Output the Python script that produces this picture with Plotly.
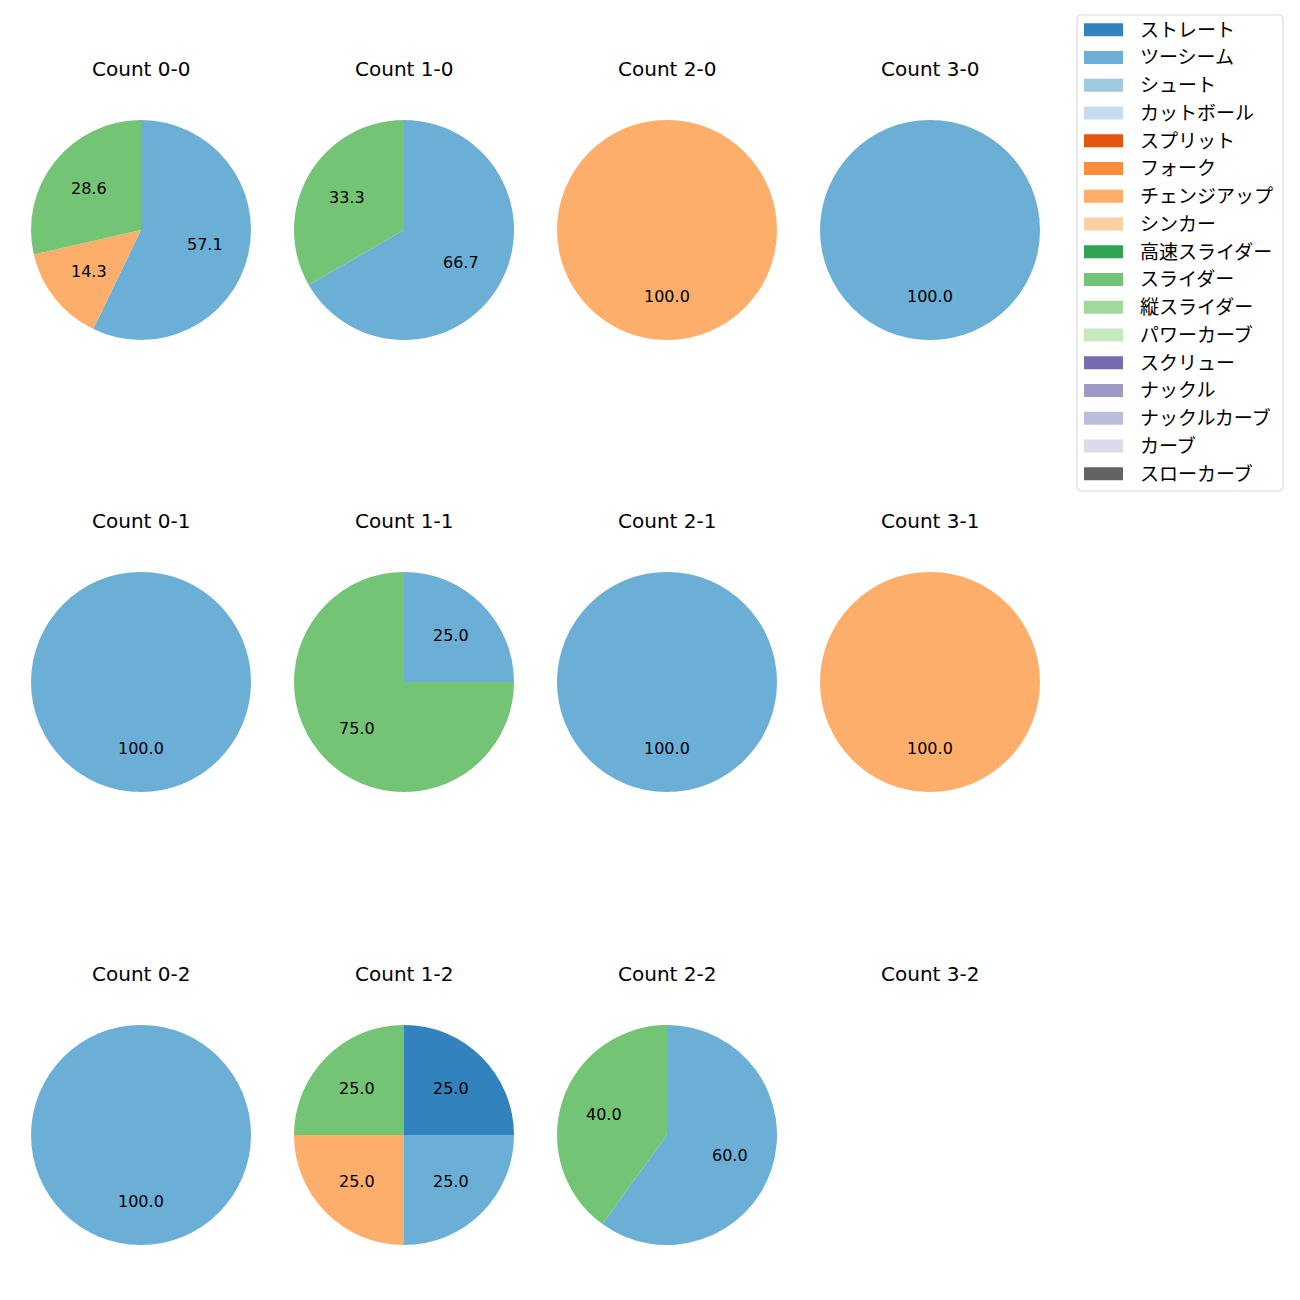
import math
import plotly.graph_objects as go

# ---- data ----
pitch_types = ["ストレート", "ツーシーム", "シュート", "カットボール", "スプリット", "フォーク",
               "チェンジアップ", "シンカー", "高速スライダー", "スライダー", "縦スライダー",
               "パワーカーブ", "スクリュー", "ナックル", "ナックルカーブ", "カーブ", "スローカーブ"]
pitch_colors = ["#3182bd", "#6baed6", "#9ecae1", "#c6dbef", "#e6550d", "#fd8d3c",
                "#fdae6b", "#fdd0a2", "#31a354", "#74c476", "#a1d99b", "#c7e9c0",
                "#756bb1", "#9e9ac8", "#bcbddc", "#dadaeb", "#636363"]

count_titles = ["Count 0-0", "Count 1-0", "Count 2-0", "Count 3-0",
                "Count 0-1", "Count 1-1", "Count 2-1", "Count 3-1",
                "Count 0-2", "Count 1-2", "Count 2-2", "Count 3-2"]

slice_pitches = [
    ["ツーシーム", "チェンジアップ", "スライダー"],
    ["ツーシーム", "スライダー"],
    ["チェンジアップ"],
    ["ツーシーム"],
    ["ツーシーム"],
    ["ツーシーム", "スライダー"],
    ["ツーシーム"],
    ["チェンジアップ"],
    ["ツーシーム"],
    ["ストレート", "ツーシーム", "チェンジアップ", "スライダー"],
    ["ツーシーム", "スライダー"],
    [],
]
slice_counts = [
    [4, 1, 2],
    [2, 1],
    [1],
    [1],
    [1],
    [1, 3],
    [1],
    [1],
    [1],
    [1, 1, 1, 1],
    [3, 2],
    [],
]

# ---- layout geometry (pixels of the screenshot) ----
W = H = 1300
OFF = 8  # page body margin
col_cx = [141, 404, 667, 930]
row_cy = [230, 682, 1135]
R = 110
title_dy = 161
LATIN = "DejaVu Sans"
CJK = "Noto Sans CJK JP"


def px(x):
    return (x - OFF) / W


def py(y):
    return 1 - (y - OFF) / H


color_of = dict(zip(pitch_types, pitch_colors))

fig = go.Figure()
annotations = []
shapes = []

for i, title in enumerate(count_titles):
    r_i, c_i = divmod(i, 4)
    cx, cy = col_cx[c_i], row_cy[r_i]
    annotations.append(dict(text=title, x=px(cx), y=py(cy - title_dy), xref="paper", yref="paper",
                            showarrow=False, xanchor="center", yanchor="middle",
                            font=dict(family=LATIN, size=20, color="#000000")))
    labels = slice_pitches[i]
    vals = slice_counts[i]
    if not vals:
        continue
    fig.add_trace(go.Pie(
        labels=labels, values=vals,
        marker=dict(colors=[color_of[l] for l in labels], line=dict(width=0)),
        sort=False, direction="clockwise", rotation=0,
        textinfo="none", hoverinfo="label+percent", showlegend=False,
        domain=dict(x=[px(cx - R), px(cx + R)], y=[py(cy + R), py(cy - R)]),
    ))
    total = sum(vals)
    cum = 0
    for v in vals:
        mid = (cum + v / 2) / total
        cum += v
        theta = math.radians(90 - 360 * mid)
        tx = cx + 0.6 * R * math.cos(theta)
        ty = cy - 0.6 * R * math.sin(theta)
        annotations.append(dict(text=f"{100 * v / total:.1f}", x=px(tx), y=py(ty),
                                xref="paper", yref="paper", showarrow=False,
                                xanchor="center", yanchor="middle",
                                font=dict(family=LATIN, size=16, color="#000000")))

# ---- legend (drawn manually to match matplotlib style) ----
lx0, lx1, ly0, ly1 = 1077, 1283, 15, 491
rad = 4
path = (f"M {px(lx0 + rad)},{py(ly0)} L {px(lx1 - rad)},{py(ly0)} "
        f"Q {px(lx1)},{py(ly0)} {px(lx1)},{py(ly0 + rad)} L {px(lx1)},{py(ly1 - rad)} "
        f"Q {px(lx1)},{py(ly1)} {px(lx1 - rad)},{py(ly1)} L {px(lx0 + rad)},{py(ly1)} "
        f"Q {px(lx0)},{py(ly1)} {px(lx0)},{py(ly1 - rad)} L {px(lx0)},{py(ly0 + rad)} "
        f"Q {px(lx0)},{py(ly0)} {px(lx0 + rad)},{py(ly0)} Z")
shapes.append(dict(type="path", path=path, xref="paper", yref="paper",
                   line=dict(color="#d6d6d6", width=1), fillcolor="rgba(255,255,255,0.8)"))
row0, row_step = 29.7, 27.75
for k, (name, col) in enumerate(zip(pitch_types, pitch_colors)):
    yc = row0 + k * row_step
    shapes.append(dict(type="rect", xref="paper", yref="paper",
                       x0=px(1084), x1=px(1123), y0=py(yc - 6.5), y1=py(yc + 6.5),
                       fillcolor=col, line=dict(width=0)))
    annotations.append(dict(text=name, x=px(1138), y=py(yc - 1.5), xref="paper", yref="paper",
                            showarrow=False, xanchor="left", yanchor="middle",
                            font=dict(family=CJK, size=19, color="#000000")))

fig.update_layout(
    width=W, height=H,
    margin=dict(l=0, r=0, t=0, b=0),
    paper_bgcolor="white", plot_bgcolor="white",
    annotations=annotations, shapes=shapes,
    showlegend=False,
)

fig.write_html("out.html")
